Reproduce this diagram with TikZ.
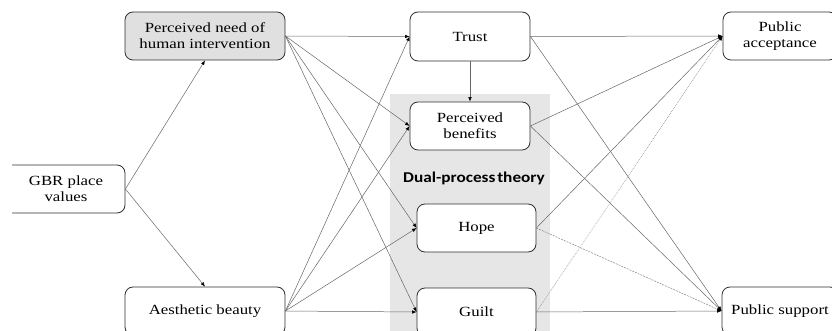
\documentclass[tikz,border=0pt]{standalone}
\usepackage{fontspec}
\setmainfont{Liberation Serif}[FakeStretch=1.2]
\newfontfamily\dpfont{Carlito}[FakeStretch=1.15]
\usetikzlibrary{arrows.meta}
\definecolor{boxgray}{HTML}{E0E0E0}
\definecolor{regiongray}{HTML}{E6E6E6}
\definecolor{linegray}{HTML}{666666}
\definecolor{bordergray}{HTML}{303030}
\tikzset{
  boxnode/.style={draw=bordergray, line width=0.8pt, rounded corners=8pt, fill=white,
    align=center, inner sep=0pt, font=\fontsize{14}{16}\selectfont},
  conn/.style={draw=linegray, line width=0.5pt, -{Latex[black,length=4.5pt,width=3.5pt]}},
  dashconn/.style={conn, draw=linegray!80, dash pattern=on 2pt off 1pt},
  dotconn/.style={conn, draw=linegray!80, dash pattern=on 0.8pt off 1pt},
}
\begin{document}
\begin{tikzpicture}[x=1pt,y=-1pt]
\useasboundingbox (0,0) rectangle (832,331);
\fill[regiongray] (390,94) rectangle (550,340);
\node[font=\dpfont\bfseries\fontsize{15}{17}\selectfont] (dpt) at (474,178) {Dual-process\hspace{0.12em}theory};

\node[boxnode, fill=boxgray, minimum width=160, minimum height=48] (pn) at (205,36) {Perceived need of\\human intervention};
\node[boxnode, minimum width=125, minimum height=48] (gbr) at (62.5,189) {\hspace*{7pt}GBR place\\\hspace*{7pt}values};
\fill[white] (0,160) rectangle (12,220);
\node[boxnode, minimum width=160, minimum height=48] (ab) at (205,311) {Aesthetic beauty};
\node[boxnode, minimum width=120, minimum height=49] (tr) at (470,36.5) {Trust};
\node[boxnode, minimum width=120, minimum height=48] (pb) at (470,126) {Perceived\\benefits};
\node[boxnode, minimum width=119, minimum height=48] (ho) at (476.5,228) {Hope};
\node[boxnode, minimum width=119, minimum height=48] (gu) at (476.5,312) {Guilt};
\node[boxnode, minimum width=114, minimum height=48] (pa) at (780,36) {Public\\acceptance};
\node[boxnode, minimum width=116, minimum height=48] (ps) at (780,311) {Public support};

\draw[conn] (gbr.east) -- (pn.south);
\draw[conn] (gbr.east) -- (ab.north);

\draw[conn] (pn.east) -- (tr.west);
\draw[conn] (pn.east) -- (pb.west);
\draw[conn] (pn.east) -- (ho.west);
\draw[conn] (pn.east) -- (gu.west);

\draw[conn] (ab.east) -- (tr.west);
\draw[conn] (ab.east) -- (pb.west);
\draw[conn] (ab.east) -- (ho.west);
\draw[conn] (ab.east) -- (gu.west);

\draw[conn] (tr.south) -- (pb.north);

\draw[conn] (tr.east) -- (pa.west);
\draw[conn] (tr.east) -- (ps.west);
\draw[conn] (pb.east) -- (pa.west);
\draw[conn] (pb.east) -- (ps.west);
\draw[conn] (ho.east) -- (pa.west);
\draw[dashconn] (ho.east) -- (ps.west);
\draw[dotconn] (gu.east) -- (pa.west);
\draw[conn] (gu.east) -- (ps.west);
\end{tikzpicture}
\end{document}
